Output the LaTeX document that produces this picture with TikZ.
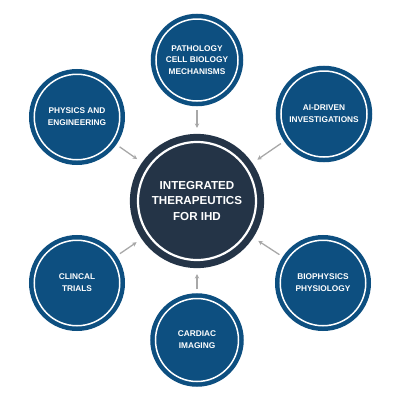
\documentclass[tikz,border=0pt]{standalone}
\usepackage{fontspec}
\setmainfont{Liberation Sans}
\usetikzlibrary{arrows.meta}
\definecolor{hubnavy}{HTML}{243447}
\definecolor{topicblue}{HTML}{0D4F80}
\definecolor{arrowgray}{HTML}{A8A8A8}
\tikzset{
  topic/.style={circle,fill=topicblue,draw=topicblue,double=white,line width=4.5pt,
    double distance=1.5pt,inner sep=0pt,outer sep=5.25pt,minimum size=#1,
    text=white,align=center,font=\fontsize{8.3}{11.8}\selectfont\bfseries},
  hub/.style={circle,fill=hubnavy,draw=hubnavy,double=white,line width=7pt,
    double distance=2.2pt,inner sep=0pt,outer sep=8.1pt,minimum size=118pt,
    text=white,align=center,font=\fontsize{11.6}{15.8}\selectfont\bfseries},
  feed/.style={arrowgray,line width=1.3pt,-{Stealth[length=4.5pt,width=4.5pt]},
    shorten <=4pt,shorten >=6pt}
}
\begin{document}
\begin{tikzpicture}[x=1pt,y=1pt]
\useasboundingbox (0,0) rectangle (400,-400);
\node[hub] (ihd) at (197,-201) {INTEGRATED\\THERAPEUTICS\\FOR IHD};
\node[topic=82pt] (patho) at ([shift={(0,141)}]ihd) {PATHOLOGY\\CELL BIOLOGY\\MECHANISMS};
\node[topic=85.5pt] (phys) at ([shift={(-120,84)}]ihd) {PHYSICS AND\\ENGINEERING};
\node[topic=86pt] (aidriven) at ([shift={(127,87)}]ihd) {AI-DRIVEN\\INVESTIGATIONS};
\node[topic=85.5pt] (clinic) at ([shift={(-120,-82)}]ihd) {CLINCAL\\TRIALS};
\node[topic=85.5pt] (biophys) at ([shift={(126,-82)}]ihd) {BIOPHYSICS\\PHYSIOLOGY};
\node[topic=83pt] (cardio) at ([shift={(0,-139)}]ihd) {CARDIAC\\IMAGING};
% every topic feeds the hub
\foreach \n in {patho,phys,aidriven,clinic,biophys,cardio}
  \draw[feed] (\n) -- (ihd);
\end{tikzpicture}
\end{document}
